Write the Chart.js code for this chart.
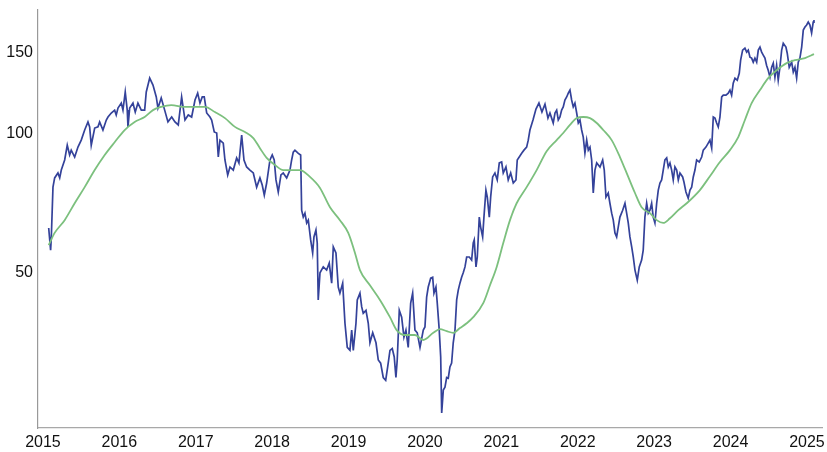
<html>
<head>
<meta charset="utf-8">
<script src="https://cdn.jsdelivr.net/npm/chart.js"></script>
<style>
  html, body { margin: 0; padding: 0; background: #fff; }
  #wrap { width: 827px; height: 452px; }
</style>
<script>
// price (decimal years)
var priceYears = [
  2015.075, 2015.100, 2015.109, 2015.131, 2015.153, 2015.196, 2015.219, 2015.240, 2015.284, 2015.318,
  2015.349, 2015.370, 2015.415, 2015.458, 2015.501, 2015.546, 2015.589, 2015.611, 2015.632, 2015.677,
  2015.720, 2015.742, 2015.785, 2015.829, 2015.851, 2015.894, 2015.938, 2015.959, 2015.982, 2016.025,
  2016.047, 2016.077, 2016.103, 2016.113, 2016.135, 2016.178, 2016.208, 2016.243, 2016.287, 2016.331,
  2016.352, 2016.397, 2016.440, 2016.483, 2016.505, 2016.548, 2016.593, 2016.636, 2016.685, 2016.728,
  2016.771, 2016.815, 2016.859, 2016.902, 2016.946, 2016.990, 2017.025, 2017.055, 2017.085, 2017.111,
  2017.143, 2017.186, 2017.208, 2017.242, 2017.274, 2017.295, 2017.317, 2017.360, 2017.382, 2017.418,
  2017.448, 2017.491, 2017.535, 2017.565, 2017.601, 2017.631, 2017.666, 2017.709, 2017.753, 2017.797,
  2017.840, 2017.870, 2017.897, 2017.928, 2017.971, 2018.001, 2018.027, 2018.050, 2018.080, 2018.115,
  2018.145, 2018.190, 2018.233, 2018.255, 2018.276, 2018.298, 2018.342, 2018.373, 2018.386, 2018.407,
  2018.429, 2018.452, 2018.473, 2018.504, 2018.530, 2018.547, 2018.573, 2018.590, 2018.603, 2018.626,
  2018.669, 2018.713, 2018.747, 2018.779, 2018.800, 2018.835, 2018.865, 2018.887, 2018.923, 2018.953,
  2018.983, 2019.018, 2019.041, 2019.062, 2019.097, 2019.114, 2019.149, 2019.172, 2019.192, 2019.228,
  2019.258, 2019.280, 2019.316, 2019.359, 2019.389, 2019.420, 2019.454, 2019.486, 2019.512, 2019.542,
  2019.572, 2019.598, 2019.620, 2019.637, 2019.664, 2019.695, 2019.725, 2019.751, 2019.781, 2019.813,
  2019.839, 2019.869, 2019.899, 2019.935, 2019.978, 2020.000, 2020.022, 2020.043, 2020.075, 2020.101,
  2020.118, 2020.144, 2020.161, 2020.187, 2020.206, 2020.219, 2020.240, 2020.262, 2020.284, 2020.305,
  2020.327, 2020.349, 2020.370, 2020.393, 2020.415, 2020.436, 2020.458, 2020.480, 2020.501, 2020.524,
  2020.546, 2020.580, 2020.611, 2020.632, 2020.645, 2020.668, 2020.685, 2020.711, 2020.729, 2020.755,
  2020.772, 2020.798, 2020.816, 2020.842, 2020.860, 2020.886, 2020.916, 2020.946, 2020.973, 2021.004,
  2021.025, 2021.060, 2021.090, 2021.122, 2021.156, 2021.191, 2021.208, 2021.234, 2021.266, 2021.296,
  2021.331, 2021.352, 2021.374, 2021.414, 2021.453, 2021.492, 2021.531, 2021.571, 2021.610, 2021.636,
  2021.658, 2021.679, 2021.702, 2021.724, 2021.745, 2021.767, 2021.789, 2021.810, 2021.832, 2021.855,
  2021.876, 2021.898, 2021.920, 2021.941, 2021.963, 2021.986, 2022.007, 2022.029, 2022.051, 2022.072,
  2022.094, 2022.117, 2022.138, 2022.160, 2022.182, 2022.203, 2022.225, 2022.248, 2022.291, 2022.326,
  2022.347, 2022.369, 2022.399, 2022.421, 2022.444, 2022.465, 2022.487, 2022.509, 2022.530, 2022.552,
  2022.588, 2022.618, 2022.640, 2022.661, 2022.683, 2022.706, 2022.727, 2022.749, 2022.779, 2022.805,
  2022.836, 2022.857, 2022.879, 2022.902, 2022.923, 2022.945, 2022.967, 2022.988, 2023.010, 2023.033,
  2023.054, 2023.076, 2023.098, 2023.119, 2023.141, 2023.164, 2023.185, 2023.207, 2023.229, 2023.250,
  2023.272, 2023.295, 2023.316, 2023.338, 2023.373, 2023.390, 2023.416, 2023.446, 2023.469, 2023.491,
  2023.512, 2023.534, 2023.556, 2023.590, 2023.622, 2023.643, 2023.678, 2023.708, 2023.730, 2023.753,
  2023.774, 2023.796, 2023.818, 2023.839, 2023.861, 2023.884, 2023.905, 2023.940, 2023.970, 2023.992,
  2024.014, 2024.035, 2024.058, 2024.088, 2024.114, 2024.132, 2024.158, 2024.188, 2024.211, 2024.232,
  2024.254, 2024.276, 2024.297, 2024.319, 2024.342, 2024.363, 2024.385, 2024.407, 2024.428, 2024.450,
  2024.472, 2024.493, 2024.516, 2024.538, 2024.559, 2024.581, 2024.603, 2024.624, 2024.646, 2024.669,
  2024.690, 2024.725, 2024.742, 2024.768, 2024.800, 2024.821, 2024.843, 2024.865, 2024.886, 2024.908,
  2024.931, 2024.952, 2024.974, 2024.996, 2025.017, 2025.039, 2025.061, 2025.082, 2025.092
];
var priceValues = [
  62.5, 56.0, 59.5, 76.6, 80.2, 82.2, 80.2, 83.4, 87.7, 94.4,
  89.9, 92.1, 89.0, 93.5, 96.8, 101.8, 106.0, 103.4, 94.4, 102.8,
  103.4, 106.0, 101.8, 107.0, 108.6, 110.8, 112.4, 109.7, 113.6, 116.4,
  112.4, 123.0, 112.4, 103.4, 113.6, 116.4, 111.3, 116.4, 112.4, 112.4,
  123.0, 131.8, 127.3, 120.0, 113.5, 119.4, 112.4, 106.0, 108.6, 106.0,
  104.4, 120.0, 107.0, 109.7, 108.6, 118.2, 122.3, 116.4, 120.0, 120.0,
  110.8, 108.6, 107.0, 100.8, 100.3, 89.0, 96.8, 95.4, 87.7, 81.4,
  84.7, 83.4, 88.6, 86.4, 99.3, 87.7, 84.7, 83.4, 82.2, 76.6,
  80.2, 77.4, 73.6, 78.2, 87.7, 89.9, 87.7, 79.4, 74.8, 81.4,
  82.2, 80.2, 83.4, 87.7, 91.2, 92.1, 90.6, 89.9, 68.3, 66.0,
  67.3, 64.1, 65.0, 58.9, 55.2, 59.8, 61.9, 58.0, 43.7, 50.0,
  51.5, 50.7, 52.5, 47.5, 56.9, 55.2, 46.6, 45.2, 47.5, 38.9,
  34.5, 34.0, 37.6, 34.0, 38.9, 43.7, 45.2, 42.2, 40.9, 41.5,
  38.9, 35.3, 37.1, 35.3, 32.4, 31.9, 29.7, 29.3, 31.3, 34.0,
  34.3, 32.9, 29.7, 32.4, 41.5, 40.1, 36.3, 37.6, 34.5, 43.0,
  45.2, 37.6, 37.1, 34.5, 37.6, 38.2, 44.3, 46.6, 48.7, 48.9,
  45.2, 46.6, 43.0, 37.6, 32.9, 24.9, 27.9, 28.3, 29.7, 29.6,
  31.3, 31.9, 35.3, 37.6, 43.7, 45.9, 47.5, 48.9, 50.0, 51.5,
  54.1, 54.1, 53.3, 58.0, 58.9, 51.5, 54.1, 66.0, 62.8, 59.8,
  66.0, 75.5, 72.9, 66.0, 72.9, 80.6, 82.2, 79.4, 86.4, 86.8,
  82.2, 84.7, 79.4, 82.2, 78.2, 79.4, 87.7, 89.0, 90.7, 92.1,
  93.5, 96.8, 101.8, 107.0, 113.0, 116.4, 111.3, 115.8, 108.0, 110.8,
  108.0, 105.4, 110.8, 112.4, 107.0, 108.6, 112.4, 114.2, 118.2, 120.0,
  122.3, 124.2, 118.2, 114.2, 116.4, 110.8, 105.4, 107.0, 101.8, 98.3,
  90.8, 96.8, 92.1, 93.5, 87.7, 74.4, 83.4, 86.4, 84.7, 87.7,
  83.4, 72.9, 74.4, 70.7, 67.3, 65.0, 61.0, 59.8, 62.8, 66.0,
  68.3, 70.7, 67.3, 64.1, 59.8, 56.9, 54.1, 50.7, 48.2, 51.5,
  53.3, 56.0, 66.0, 70.7, 67.3, 68.3, 70.7, 66.0, 64.1, 70.7,
  75.5, 78.2, 79.4, 83.4, 87.7, 88.6, 84.7, 86.4, 83.4, 79.4,
  84.7, 83.4, 79.4, 82.2, 80.6, 78.6, 74.8, 72.5, 75.5, 76.6,
  80.6, 83.4, 87.7, 86.8, 89.0, 92.1, 93.5, 95.4, 96.8, 93.0,
  108.6, 108.0, 105.4, 103.4, 108.6, 120.0, 121.1, 121.1, 122.3, 124.2,
  121.1, 128.5, 131.8, 130.5, 135.0, 144.1, 151.5, 153.0, 150.0, 151.5,
  146.3, 145.6, 142.7, 145.6, 142.7, 151.5, 153.8, 150.0, 147.8, 145.6,
  140.4, 137.1, 132.4, 139.1, 142.0, 132.4, 140.4, 130.5, 139.1, 151.5,
  156.7, 153.8, 149.2, 139.1, 142.7, 135.8, 139.1, 131.8, 142.7, 145.6,
  153.8, 167.4, 170.0, 171.7, 174.2, 171.7, 165.0, 174.2, 176.0
];

// moving average
var avgYears = [
  2015.075, 2015.153, 2015.284, 2015.415, 2015.546, 2015.677, 2015.808, 2015.938, 2016.069, 2016.200,
  2016.331, 2016.440, 2016.548, 2016.679, 2016.859, 2016.990, 2017.120, 2017.251, 2017.382, 2017.513,
  2017.644, 2017.753, 2017.840, 2017.928, 2018.037, 2018.145, 2018.255, 2018.364, 2018.495, 2018.626,
  2018.757, 2018.887, 2018.996, 2019.084, 2019.149, 2019.280, 2019.411, 2019.542, 2019.630, 2019.738,
  2019.869, 2019.978, 2020.109, 2020.196, 2020.284, 2020.370, 2020.458, 2020.546, 2020.632, 2020.763,
  2020.851, 2020.939, 2021.025, 2021.113, 2021.200, 2021.331, 2021.462, 2021.593, 2021.724, 2021.810,
  2021.898, 2021.986, 2022.072, 2022.160, 2022.248, 2022.334, 2022.444, 2022.552, 2022.661, 2022.749,
  2022.836, 2022.945, 2023.033, 2023.119, 2023.207, 2023.316, 2023.426, 2023.599, 2023.730, 2023.861,
  2023.992, 2024.101, 2024.188, 2024.276, 2024.385, 2024.493, 2024.603, 2024.734, 2024.843, 2024.974,
  2025.092
];
var avgValues = [
  57.4, 61.0, 65.0, 70.7, 76.6, 83.4, 89.9, 95.8, 101.8, 106.0,
  108.6, 112.4, 114.2, 115.2, 114.2, 114.2, 114.2, 111.3, 108.0, 103.4,
  100.8, 97.8, 93.0, 88.6, 85.5, 83.4, 83.4, 83.4, 80.6, 76.3,
  69.3, 65.0, 61.0, 55.2, 50.7, 47.0, 43.7, 40.1, 37.6, 36.7,
  36.7, 35.8, 37.1, 37.8, 37.4, 37.1, 38.0, 38.9, 40.1, 43.0,
  47.0, 51.5, 58.0, 65.0, 70.7, 76.6, 83.4, 91.6, 96.8, 100.3,
  104.4, 108.0, 108.6, 108.0, 105.4, 101.8, 96.8, 89.0, 80.6, 74.4,
  69.3, 67.3, 65.0, 64.1, 65.6, 68.3, 70.7, 75.5, 80.9, 86.8,
  92.1, 98.3, 107.0, 116.4, 124.2, 131.8, 137.1, 142.0, 144.1, 145.6,
  148.5
];

var yTicks = [50, 100, 150];
var xTicks = [2015, 2016, 2017, 2018, 2019, 2020, 2021, 2022, 2023, 2024, 2025];

function toPoints(xs, ys) {
    var pts = [];
    for (var i = 0; i < xs.length; ++i) {
        pts.push({x: xs[i], y: ys[i]});
    }
    return pts;
}

function loadChart() {
    Chart.defaults.font.family = "'Liberation Sans', Arial, sans-serif";
    Chart.defaults.font.size = 16;
    Chart.defaults.color = '#111';

    new Chart(document.getElementById('myChart'), {
        type: 'line',
        data: {
            datasets: [{
                label: 'average',
                data: toPoints(avgYears, avgValues),
                borderColor: '#7cc07e',
                borderWidth: 1.8,
                pointRadius: 0,
                cubicInterpolationMode: 'monotone',
                order: 0
            }, {
                label: 'price',
                data: toPoints(priceYears, priceValues),
                borderColor: '#34429a',
                borderWidth: 1.7,
                pointRadius: 0,
                tension: 0,
                order: 1
            }]
        },
        options: {
            responsive: false,
            animation: false,
            layout: { padding: { left: 6, top: 10, right: 5, bottom: 0 } },
            plugins: { legend: { display: false }, tooltip: { enabled: false } },
            scales: {
                x: {
                    type: 'linear',
                    min: 2014.935,
                    max: 2025.197,
                    afterBuildTicks: function (axis) {
                        axis.ticks = xTicks.map(function (v) { return {value: v}; });
                    },
                    afterFit: function (axis) {
                        axis.height = 24;
                        axis.paddingLeft = 0;
                        axis.paddingRight = 0;
                    },
                    ticks: {
                        padding: 5,
                        maxRotation: 0,
                        callback: function (v) { return String(v); }
                    },
                    grid: { display: false, drawTicks: false },
                    border: { display: true, color: '#a8a8a8', width: 1.2 }
                },
                y: {
                    type: 'logarithmic',
                    min: 23.1,
                    max: 185,
                    afterBuildTicks: function (axis) {
                        axis.ticks = yTicks.map(function (v) { return {value: v}; });
                    },
                    afterFit: function (axis) {
                        axis.width = 32;
                        axis.paddingTop = 0;
                        axis.paddingBottom = 0;
                    },
                    ticks: {
                        padding: 5,
                        callback: function (v) { return String(v); }
                    },
                    grid: { display: false, drawTicks: false },
                    border: { display: true, color: '#999999', width: 1.2 }
                }
            }
        }
    });
}
</script>
</head>
<body onLoad="loadChart()">
<div id="wrap">
    <canvas id="myChart" width="827" height="452"></canvas>
</div>
</body>
</html>
